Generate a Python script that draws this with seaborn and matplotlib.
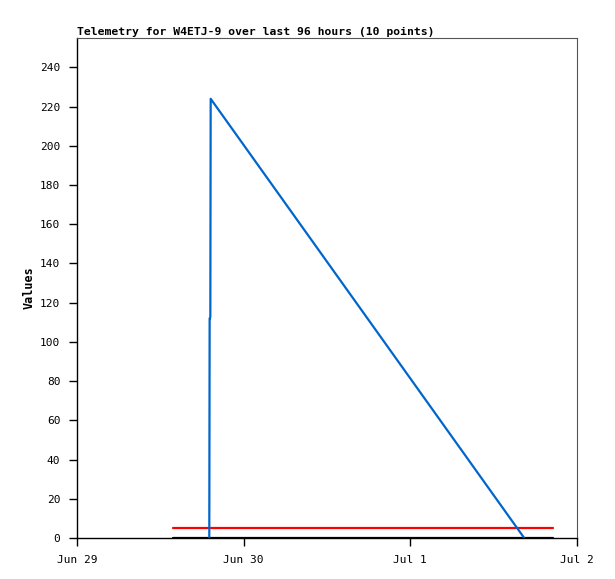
import matplotlib
matplotlib.use("Agg")
import matplotlib.pyplot as plt
import seaborn as sns
import pandas as pd

sns.set_theme(style="white")
plt.rcParams['font.family'] = ['DejaVu Sans Mono']
plt.rcParams['text.color'] = 'black'
plt.rcParams['axes.labelcolor'] = 'black'
plt.rcParams['xtick.color'] = 'black'
plt.rcParams['ytick.color'] = 'black'

title = "Telemetry for W4ETJ-9 over last 96 hours (10 points)"
base = pd.Timestamp("2024-06-29 00:00")

# blue series: hours after Jun 29 00:00, values
blue_hours = [19.05, 19.1, 19.15, 19.2, 19.25, 64.4]
blue_values = [0, 112, 112, 113, 224, 0]

# threshold lines
red_hours = [13.8, 68.6]
red_values = [5, 5]
black_hours = [13.8, 68.6]
black_values = [0, 0]

tick_labels = ["Jun 29", "Jun 30", "Jul 1", "Jul 2"]

def frame(h, v):
    return pd.DataFrame({"t": [base + pd.Timedelta(hours=x) for x in h], "v": v})

fig = plt.figure(figsize=(6.15, 5.79), dpi=100)
ax = fig.add_axes([77/615, 41/579, 500/615, 500/579])

sns.lineplot(data=frame(black_hours, black_values), x="t", y="v", ax=ax,
             color="black", lw=1.6, estimator=None, sort=False)
sns.lineplot(data=frame(red_hours, red_values), x="t", y="v", ax=ax,
             color="#ff0000", lw=1.6, estimator=None, sort=False)
sns.lineplot(data=frame(blue_hours, blue_values), x="t", y="v", ax=ax,
             color="#0066cc", lw=1.6, estimator=None, sort=False)

ticks = [base + pd.Timedelta(days=i) for i in range(4)]
ax.set_xlim(ticks[0], ticks[-1])
ax.set_xticks(ticks)
ax.set_xticklabels(tick_labels)
ax.set_ylim(0, 255)
ax.set_yticks(range(0, 241, 20))

ax.tick_params(axis="both", direction="out", length=6, width=1, color="black",
               labelsize=8, pad=6, left=True, bottom=True, labelcolor="black")
for s in ["left", "bottom"]:
    ax.spines[s].set_color("black")
    ax.spines[s].set_linewidth(1)
for s in ["top", "right"]:
    ax.spines[s].set_color("#555555")
    ax.spines[s].set_linewidth(0.8)

ax.set_xlabel("")
ax.set_ylabel("Values", fontsize=8.5, fontweight="bold", labelpad=3, color="black")
ax.set_title(title, loc="left", fontsize=8.2, fontweight="bold", pad=2, color="black")

fig.savefig("out.png", dpi=100)
